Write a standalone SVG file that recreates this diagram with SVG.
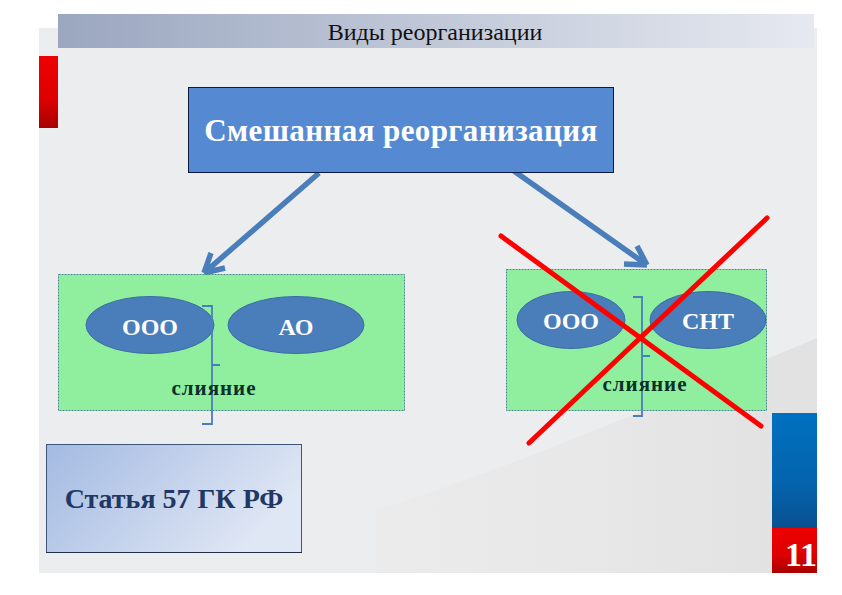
<svg xmlns="http://www.w3.org/2000/svg" width="842" height="595" viewBox="0 0 842 595">
<style>
.s{font-family:"Liberation Serif","Times New Roman",serif}
.b{font-weight:bold}
.m{text-anchor:middle}
.g{fill:#90ee9f;stroke:#2f6f80;stroke-width:.8;stroke-dasharray:2 1}
.e{fill:#4a7ebb;stroke:#3a6ea5;stroke-width:1}
.w{fill:#fff;font-size:24px}
.br{fill:none;stroke:#4a7ebb;stroke-width:1.8}
.sl{fill:#0a3028;font-size:21px;letter-spacing:1px}
.c{stroke:#4a7ebb;stroke-width:5.500;fill:none;stroke-linejoin:round}
.x{stroke:#f00;stroke-width:5;stroke-linecap:round}
</style>
<defs>
<linearGradient id="hd"><stop offset="0" stop-color="#9ba7c0"/><stop offset="1" stop-color="#e6e9f0"/></linearGradient>
<linearGradient id="red" x2="0" y2="1"><stop offset="0" stop-color="#ee0000"/><stop offset=".6" stop-color="#dd0000"/><stop offset="1" stop-color="#a80000"/></linearGradient>
<linearGradient id="blu" x2="0" y2="1"><stop offset="0" stop-color="#0070c0"/><stop offset=".6" stop-color="#0464ad"/><stop offset="1" stop-color="#0a5090"/></linearGradient>
<linearGradient id="art" x1="0" y1="0" x2="1" y2=".4"><stop offset="0" stop-color="#a3bae2"/><stop offset="1" stop-color="#dfe6f4"/></linearGradient>
<linearGradient id="bg"><stop offset="0" stop-color="#ebebec"/><stop offset=".45" stop-color="#e8e8e9"/><stop offset="1" stop-color="#e1e1e2"/></linearGradient>
</defs>
<rect width="842" height="595" fill="#fff"/>
<rect x="39" y="28" width="778" height="545" fill="#ecedee"/>
<path d="M817 338L650 408C570 440 480 478 376 510V573H817Z" fill="url(#bg)"/>
<rect x="58" y="14" width="756" height="34" fill="url(#hd)"/>
<rect x="39" y="56" width="19" height="72" fill="url(#red)"/>
<rect x="772" y="413" width="45" height="115" fill="url(#blu)"/>
<rect x="772" y="528" width="45" height="45" fill="url(#red)"/>
<text class="s m" x="435" y="40" font-size="24" fill="#111">Виды реорганизации</text>
<text class="s b m" x="801" y="566" font-size="34" fill="#fff">11</text>

<g id="connectors">
<path class="c" d="M319 173L204 273M204 273L211 253M204 273L225 268"/>
<path class="c" d="M514 171L647 265M647 265L637 246M647 265L624 264"/>
</g>

<g id="node-main">
<rect x="188.500" y="87.500" width="425" height="85" fill="#558ad2" stroke="#0a1a40" stroke-width="1"/>
<text class="s b m" x="401" y="141" font-size="31" fill="#fff" letter-spacing=".4">Смешанная реорганизация</text>
</g>

<g id="node-left">
<rect class="g" x="58.500" y="274.500" width="346" height="136"/>
<ellipse class="e" cx="150" cy="325" rx="64" ry="28.500"/>
<ellipse class="e" cx="296" cy="325" rx="68" ry="28.500"/>
<text class="s b m w" x="150" y="335">ООО</text>
<text class="s b m w" x="296" y="335">АО</text>
<path class="br" d="M202 306H212V365M220 365H212V424H202"/>
<text class="s b m sl" x="214" y="395">слияние</text>
</g>

<g id="node-right">
<rect class="g" x="506.500" y="269.500" width="260" height="141"/>
<ellipse class="e" cx="571" cy="320" rx="54" ry="28.500"/>
<ellipse class="e" cx="708" cy="320" rx="58" ry="28.500"/>
<text class="s b m w" x="571" y="329">ООО</text>
<text class="s b m w" x="708" y="329">СНТ</text>
<path class="br" d="M633 297H642V356M650 356H642V416H633"/>
<text class="s b m sl" x="645" y="391">слияние</text>
</g>

<g id="node-article">
<rect x="46.500" y="444.500" width="255" height="108" fill="url(#art)" stroke="#3c5578" stroke-width="1"/>
<path d="M46 552.500H302" stroke="#1f2f48" stroke-width="1.200"/>
<text class="s b m" x="174" y="508" font-size="28" fill="#1f3864">Статья 57 ГК РФ</text>
</g>

<g id="cross">
<path class="x" d="M501 236L761 426M767 218L529 443"/>
</g>
</svg>
